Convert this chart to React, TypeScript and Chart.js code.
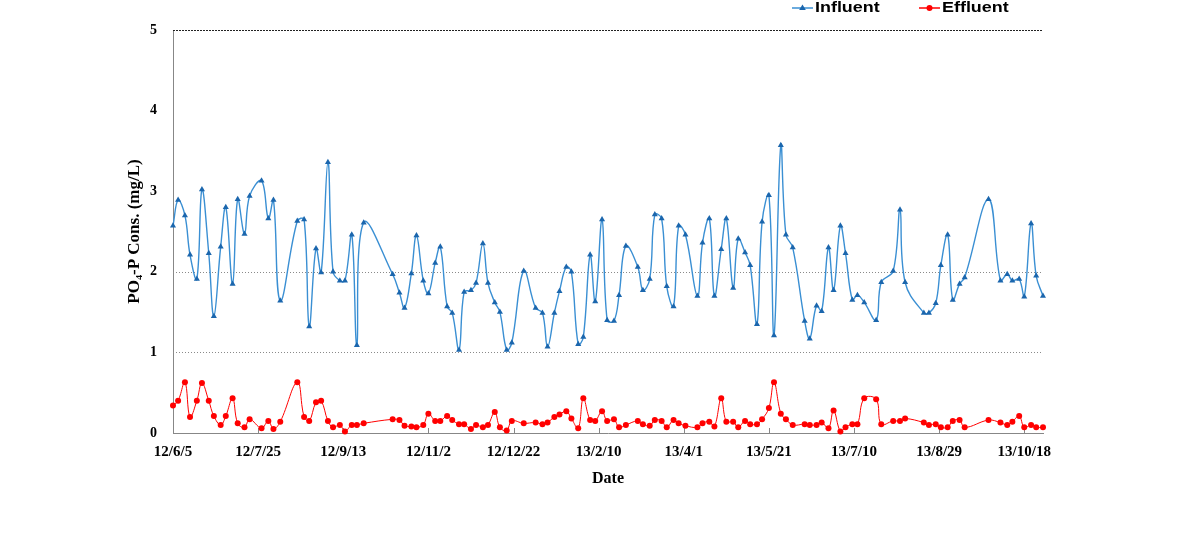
import React, { useEffect, useRef } from "react";
import { Chart, registerables } from "chart.js";

Chart.register(...registerables);

// ---------- data ----------
const startDate = "2012-06-05";

const sampleDates = [
  "2012-06-05", "2012-06-08", "2012-06-12", "2012-06-15", "2012-06-19", "2012-06-22", "2012-06-26", "2012-06-29",
  "2012-07-03", "2012-07-06", "2012-07-10", "2012-07-13", "2012-07-17", "2012-07-20", "2012-07-27", "2012-07-31",
  "2012-08-03", "2012-08-07", "2012-08-17", "2012-08-21", "2012-08-24", "2012-08-28", "2012-08-31",
  "2012-09-04", "2012-09-07", "2012-09-11", "2012-09-14", "2012-09-18", "2012-09-21", "2012-09-25",
  "2012-10-12", "2012-10-16", "2012-10-19", "2012-10-23", "2012-10-26", "2012-10-30",
  "2012-11-02", "2012-11-06", "2012-11-09", "2012-11-13", "2012-11-16", "2012-11-20", "2012-11-23", "2012-11-27", "2012-11-30",
  "2012-12-04", "2012-12-07", "2012-12-11", "2012-12-14", "2012-12-18", "2012-12-21", "2012-12-28",
  "2013-01-04", "2013-01-08", "2013-01-11", "2013-01-15", "2013-01-18", "2013-01-22", "2013-01-25", "2013-01-29",
  "2013-02-01", "2013-02-05", "2013-02-08", "2013-02-12", "2013-02-15", "2013-02-19", "2013-02-22", "2013-02-26",
  "2013-03-05", "2013-03-08", "2013-03-12", "2013-03-15", "2013-03-19", "2013-03-22", "2013-03-26", "2013-03-29",
  "2013-04-02", "2013-04-09", "2013-04-12", "2013-04-16", "2013-04-19", "2013-04-23", "2013-04-26", "2013-04-30",
  "2013-05-03", "2013-05-07", "2013-05-10", "2013-05-14", "2013-05-17", "2013-05-21", "2013-05-24", "2013-05-28", "2013-05-31",
  "2013-06-04", "2013-06-11", "2013-06-14", "2013-06-18", "2013-06-21", "2013-06-25", "2013-06-28",
  "2013-07-02", "2013-07-05", "2013-07-09", "2013-07-12", "2013-07-16", "2013-07-23", "2013-07-26",
  "2013-08-02", "2013-08-06", "2013-08-09", "2013-08-20", "2013-08-23", "2013-08-27", "2013-08-30",
  "2013-09-03", "2013-09-06", "2013-09-10", "2013-09-13", "2013-09-27",
  "2013-10-04", "2013-10-08", "2013-10-11", "2013-10-15", "2013-10-18", "2013-10-22", "2013-10-25", "2013-10-29",
];

const influent = [
  2.57, 2.89, 2.70, 2.21, 1.91, 3.02, 2.23, 1.45, 2.31, 2.80, 1.85, 2.90, 2.47, 2.94, 3.13, 2.66,
  2.89, 1.64, 2.63, 2.65, 1.32, 2.29, 1.99, 3.36, 2.00, 1.89, 1.89, 2.46, 1.09, 2.61,
  1.97, 1.74, 1.55, 1.98, 2.45, 1.89, 1.73, 2.11, 2.31, 1.57, 1.49, 1.03, 1.75, 1.77, 1.86,
  2.35, 1.86, 1.62, 1.50, 1.03, 1.12, 2.01,
  1.55, 1.49, 1.07, 1.49, 1.76, 2.06, 2.00, 1.10, 1.19, 2.21, 1.63, 2.65, 1.40, 1.39, 1.71, 2.32,
  2.06, 1.77, 1.91, 2.71, 2.66, 1.82, 1.57, 2.57, 2.46, 1.70, 2.36, 2.66, 1.70, 2.28, 2.66, 1.80,
  2.41, 2.24, 2.08, 1.35, 2.62, 2.95, 1.21, 3.57, 2.46, 2.30, 1.39, 1.17, 1.58, 1.51, 2.30, 1.77,
  2.57, 2.23, 1.65, 1.71, 1.62, 1.40, 1.87, 2.01, 2.77, 1.87, 1.49, 1.49, 1.61, 2.08,
  2.46, 1.65, 1.85, 1.93, 2.90, 1.89, 1.97, 1.89, 1.91, 1.69, 2.60, 1.95, 1.70,
];

const effluent = [
  0.34, 0.40, 0.63, 0.20, 0.40, 0.62, 0.40, 0.21, 0.10, 0.21, 0.43, 0.12, 0.07, 0.17, 0.06, 0.15,
  0.05, 0.14, 0.63, 0.20, 0.15, 0.38, 0.40, 0.15, 0.07, 0.10, 0.02, 0.10, 0.10, 0.12,
  0.17, 0.16, 0.09, 0.08, 0.07, 0.10, 0.24, 0.15, 0.15, 0.21, 0.16, 0.11, 0.11, 0.05, 0.10,
  0.07, 0.10, 0.26, 0.07, 0.03, 0.15, 0.12,
  0.13, 0.11, 0.13, 0.20, 0.23, 0.27, 0.18, 0.06, 0.43, 0.16, 0.15, 0.27, 0.15, 0.17, 0.07, 0.10,
  0.15, 0.11, 0.09, 0.16, 0.15, 0.07, 0.16, 0.12, 0.09, 0.07, 0.12, 0.14, 0.08, 0.43, 0.14, 0.14,
  0.07, 0.15, 0.11, 0.11, 0.17, 0.31, 0.63, 0.24, 0.17, 0.10, 0.11, 0.10, 0.10, 0.13, 0.06, 0.28,
  0.02, 0.07, 0.11, 0.11, 0.43, 0.42, 0.11, 0.15, 0.15, 0.18, 0.13, 0.10, 0.11, 0.07,
  0.07, 0.15, 0.16, 0.07, 0.16, 0.13, 0.10, 0.14, 0.21, 0.07, 0.10, 0.07, 0.07,
];

const seriesNames = ["Influent", "Effluent"];
const xTickDays = [0, 50, 100, 150, 200, 250, 300, 350, 400, 450, 500];
const yMin = 0;
const yMax = 5;
const dottedGridValues = [1, 2];
const xTitle = "Date";
const yTitle = "PO\u2084-P Cons. (mg/L)";

// ---------- helpers ----------
const DAY_MS = 86400000;
function toUTC(s: string) {
  const [y, m, d] = s.split("-").map(Number);
  return Date.UTC(y, m - 1, d);
}
const startMs = toUTC(startDate);
function dayOffset(s: string) {
  return Math.round((toUTC(s) - startMs) / DAY_MS);
}
function formatDay(day: number) {
  const dt = new Date(startMs + day * DAY_MS);
  return `${String(dt.getUTCFullYear()).slice(2)}/${dt.getUTCMonth() + 1}/${dt.getUTCDate()}`;
}

const xDays = sampleDates.map(dayOffset);
const xMaxDay = xDays[xDays.length - 1];

const INF_LINE = "#3a8fd3";
const INF_MARK = "#1b66ad";
const EFF = "#ff0000";
const AXIS = "#878787";
const SERIF = "'Liberation Serif', 'Times New Roman', serif";

function drawTriangle(ctx: CanvasRenderingContext2D, cx: number, cy: number, r: number) {
  ctx.beginPath();
  ctx.moveTo(cx, cy - r);
  ctx.lineTo(cx + r * 0.95, cy + r * 0.6);
  ctx.lineTo(cx - r * 0.95, cy + r * 0.6);
  ctx.closePath();
  ctx.fill();
}

const decorPlugin = {
  id: "decor",
  beforeDatasetsDraw(chart: any) {
    const { ctx, chartArea, scales } = chart;
    const y = scales.y;
    const x = scales.x;
    ctx.save();
    ctx.lineWidth = 1;
    ctx.strokeStyle = "#8a8a8a";
    ctx.setLineDash([1, 2]);
    dottedGridValues.forEach((v) => {
      const py = Math.round(y.getPixelForValue(v)) + 0.5;
      ctx.beginPath();
      ctx.moveTo(chartArea.left, py);
      ctx.lineTo(chartArea.right, py);
      ctx.stroke();
    });
    ctx.strokeStyle = "#222";
    ctx.setLineDash([2, 1]);
    const pt = Math.round(y.getPixelForValue(yMax)) + 0.5;
    ctx.beginPath();
    ctx.moveTo(chartArea.left, pt);
    ctx.lineTo(chartArea.right, pt);
    ctx.stroke();
    ctx.setLineDash([]);
    ctx.strokeStyle = AXIS;
    xTickDays.forEach((d) => {
      const px = Math.round(x.getPixelForValue(d)) + 0.5;
      ctx.beginPath();
      ctx.moveTo(px, chartArea.bottom);
      ctx.lineTo(px, chartArea.bottom - 5);
      ctx.stroke();
    });
    ctx.restore();
  },
  afterDraw(chart: any) {
    const { ctx } = chart;
    ctx.save();
    const cy = 8;
    const items = [
      { name: seriesNames[0], x0: 792, line: INF_LINE, mark: INF_MARK, tri: true },
      { name: seriesNames[1], x0: 919, line: EFF, mark: EFF, tri: false },
    ];
    items.forEach((it) => {
      ctx.strokeStyle = it.line;
      ctx.lineWidth = 1.5;
      ctx.beginPath();
      ctx.moveTo(it.x0, cy);
      ctx.lineTo(it.x0 + 21, cy);
      ctx.stroke();
      ctx.fillStyle = it.mark;
      if (it.tri) {
        drawTriangle(ctx, it.x0 + 10.5, cy, 3.5);
      } else {
        ctx.beginPath();
        ctx.arc(it.x0 + 10.5, cy, 3, 0, Math.PI * 2);
        ctx.fill();
      }
      ctx.fillStyle = "#000";
      ctx.font = "bold 14px 'Liberation Sans', Arial, sans-serif";
      ctx.textBaseline = "middle";
      ctx.textAlign = "left";
      ctx.save();
      ctx.translate(it.x0 + 23, cy);
      ctx.scale(1.28, 1);
      ctx.fillText(it.name, 0, 0.5);
      ctx.restore();
    });
    ctx.restore();
  },
};

export default function App() {
  const canvasRef = useRef<HTMLCanvasElement | null>(null);

  useEffect(() => {
    if (!canvasRef.current) return;
    const chart = new Chart(canvasRef.current, {
      type: "line",
      data: {
        datasets: [
          {
            label: seriesNames[0],
            data: xDays.map((d, i) => ({ x: d, y: influent[i] })),
            borderColor: INF_LINE,
            backgroundColor: INF_MARK,
            pointBackgroundColor: INF_MARK,
            pointBorderColor: INF_MARK,
            pointStyle: "triangle",
            pointRadius: 3.5,
            pointBorderWidth: 0,
            borderWidth: 1.4,
            tension: 0.4,
            fill: false,
            clip: false,
          },
          {
            label: seriesNames[1],
            data: xDays.map((d, i) => ({ x: d, y: effluent[i] })),
            borderColor: EFF,
            backgroundColor: EFF,
            pointBackgroundColor: EFF,
            pointBorderColor: EFF,
            pointStyle: "circle",
            pointRadius: 3,
            pointBorderWidth: 0,
            borderWidth: 1,
            tension: 0.4,
            fill: false,
            clip: false,
          },
        ],
      },
      options: {
        animation: false,
        responsive: false,
        maintainAspectRatio: false,
        layout: { padding: { left: 124, top: 30, right: 147, bottom: 0 } },
        plugins: {
          legend: { display: false },
          tooltip: { enabled: false },
          title: { display: false },
        },
        scales: {
          x: {
            type: "linear",
            min: 0,
            max: xMaxDay,
            afterBuildTicks: (scale: any) => {
              scale.ticks = xTickDays.map((v) => ({ value: v }));
            },
            afterFit: (scale: any) => {
              scale.height = 105;
            },
            grid: { display: false, drawTicks: false },
            border: { display: true, color: AXIS, width: 1 },
            ticks: {
              autoSkip: false,
              maxRotation: 0,
              padding: 10,
              color: "#000",
              font: { family: SERIF, size: 15, weight: "bold" },
              callback: (v: any) => formatDay(Number(v)),
            },
            title: {
              display: true,
              text: xTitle,
              color: "#000",
              font: { family: SERIF, size: 16, weight: "bold" },
              padding: { top: 0, bottom: 50 },
            },
          },
          y: {
            type: "linear",
            min: yMin,
            max: yMax,
            afterFit: (scale: any) => {
              scale.width = 49;
            },
            grid: { display: false, drawTicks: false },
            border: { display: true, color: AXIS, width: 1 },
            ticks: {
              stepSize: 1,
              padding: 16,
              color: "#000",
              font: { family: SERIF, size: 14, weight: "bold" },
            },
            title: {
              display: true,
              text: yTitle,
              color: "#000",
              font: { family: SERIF, size: 17, weight: "bold" },
              padding: { top: 0, bottom: 0 },
            },
          },
        },
      },
      plugins: [decorPlugin],
    } as any);
    return () => chart.destroy();
  }, []);

  return (
    <div style={{ position: "fixed", left: 0, top: 0, width: 1190, height: 538, background: "#fff" }}>
      <canvas ref={canvasRef} width={1190} height={538} style={{ display: "block" }} />
    </div>
  );
}
